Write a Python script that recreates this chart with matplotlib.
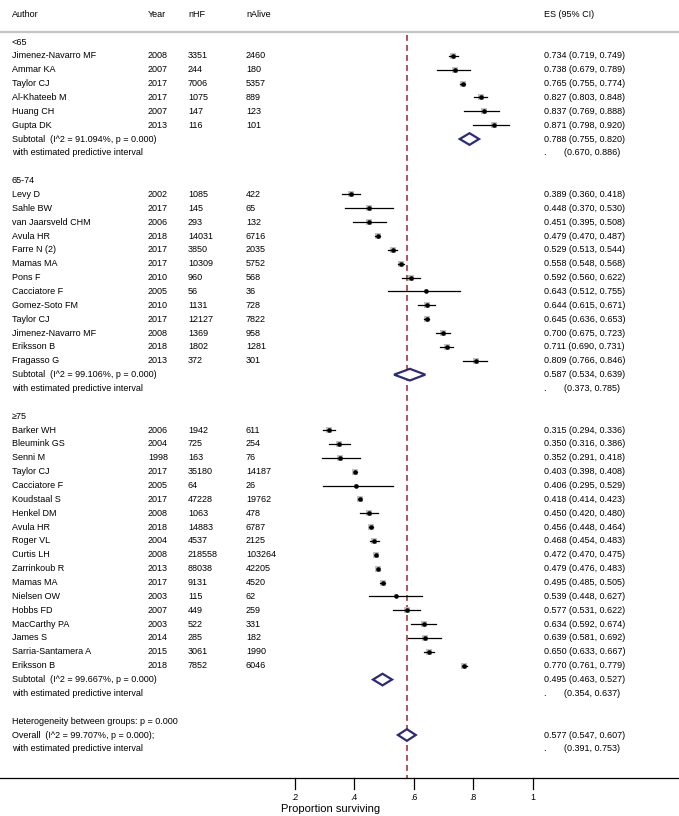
import numpy as np
import matplotlib
matplotlib.use("Agg")
import matplotlib.pyplot as plt
from matplotlib.patches import Polygon

plt.rcParams['font.family'] = ['Liberation Sans', 'DejaVu Sans']

# ---- data ----
group_names = ["<65", "65-74", "\u226575"]

authors_lt65 = ["Jimenez-Navarro MF", "Ammar KA", "Taylor CJ", "Al-Khateeb M", "Huang CH", "Gupta DK"]
years_lt65 = [2008, 2007, 2017, 2017, 2007, 2013]
nhf_lt65 = [3351, 244, 7006, 1075, 147, 116]
nalive_lt65 = [2460, 180, 5357, 889, 123, 101]
es_lt65 = [0.734, 0.738, 0.765, 0.827, 0.837, 0.871]
lo_lt65 = [0.719, 0.679, 0.755, 0.803, 0.769, 0.798]
hi_lt65 = [0.749, 0.789, 0.774, 0.848, 0.888, 0.920]

authors_6574 = ["Levy D", "Sahle BW", "van Jaarsveld CHM", "Avula HR", "Farre N (2)", "Mamas MA",
                "Pons F", "Cacciatore F", "Gomez-Soto FM", "Taylor CJ", "Jimenez-Navarro MF",
                "Eriksson B", "Fragasso G"]
years_6574 = [2002, 2017, 2006, 2018, 2017, 2017, 2010, 2005, 2010, 2017, 2008, 2018, 2013]
nhf_6574 = [1085, 145, 293, 14031, 3850, 10309, 960, 56, 1131, 12127, 1369, 1802, 372]
nalive_6574 = [422, 65, 132, 6716, 2035, 5752, 568, 36, 728, 7822, 958, 1281, 301]
es_6574 = [0.389, 0.448, 0.451, 0.479, 0.529, 0.558, 0.592, 0.643, 0.644, 0.645, 0.700, 0.711, 0.809]
lo_6574 = [0.360, 0.370, 0.395, 0.470, 0.513, 0.548, 0.560, 0.512, 0.615, 0.636, 0.675, 0.690, 0.766]
hi_6574 = [0.418, 0.530, 0.508, 0.487, 0.544, 0.568, 0.622, 0.755, 0.671, 0.653, 0.723, 0.731, 0.846]

authors_ge75 = ["Barker WH", "Bleumink GS", "Senni M", "Taylor CJ", "Cacciatore F", "Koudstaal S",
                "Henkel DM", "Avula HR", "Roger VL", "Curtis LH", "Zarrinkoub R", "Mamas MA",
                "Nielsen OW", "Hobbs FD", "MacCarthy PA", "James S", "Sarria-Santamera A", "Eriksson B"]
years_ge75 = [2006, 2004, 1998, 2017, 2005, 2017, 2008, 2018, 2004, 2008, 2013, 2017,
              2003, 2007, 2003, 2014, 2015, 2018]
nhf_ge75 = [1942, 725, 163, 35180, 64, 47228, 1063, 14883, 4537, 218558, 88038, 9131,
            115, 449, 522, 285, 3061, 7852]
nalive_ge75 = [611, 254, 76, 14187, 26, 19762, 478, 6787, 2125, 103264, 42205, 4520,
               62, 259, 331, 182, 1990, 6046]
es_ge75 = [0.315, 0.350, 0.352, 0.403, 0.406, 0.418, 0.450, 0.456, 0.468, 0.472, 0.479, 0.495,
           0.539, 0.577, 0.634, 0.639, 0.650, 0.770]
lo_ge75 = [0.294, 0.316, 0.291, 0.398, 0.295, 0.414, 0.420, 0.448, 0.454, 0.470, 0.476, 0.485,
           0.448, 0.531, 0.592, 0.581, 0.633, 0.761]
hi_ge75 = [0.336, 0.386, 0.418, 0.408, 0.529, 0.423, 0.480, 0.464, 0.483, 0.475, 0.483, 0.505,
           0.627, 0.622, 0.674, 0.692, 0.667, 0.779]

sub_i2 = [91.094, 99.106, 99.667]
sub_es = [0.788, 0.587, 0.495]
sub_lo = [0.755, 0.534, 0.463]
sub_hi = [0.820, 0.639, 0.527]
sub_pi_lo = [0.670, 0.373, 0.354]
sub_pi_hi = [0.886, 0.785, 0.637]

overall_i2 = 99.707
overall_es, overall_lo, overall_hi = 0.577, 0.547, 0.607
overall_pi_lo, overall_pi_hi = 0.391, 0.753
het_p = "0.000"

xticks = [0.2, 0.4, 0.6, 0.8, 1.0]
xtick_labels = [".2", ".4", ".6", ".8", "1"]

groups = [
    (authors_lt65, years_lt65, nhf_lt65, nalive_lt65, es_lt65, lo_lt65, hi_lt65),
    (authors_6574, years_6574, nhf_6574, nalive_6574, es_6574, lo_6574, hi_6574),
    (authors_ge75, years_ge75, nhf_ge75, nalive_ge75, es_ge75, lo_ge75, hi_ge75),
]

# ---- layout ----
W, H = 679, 816
fig = plt.figure(figsize=(W / 100, H / 100), dpi=100)
ax = fig.add_axes([0, 0, 1, 1])
ax.axis("off")

px0, px_per_unit = 235.5, 297.0      # pixel of x=0 and pixels per unit
row0_px, row_px = 42.0, 13.86        # pixel of row 1 and row height


def rowy(p):
    return (p - row0_px) / row_px + 1


ax.set_xlim(-px0 / px_per_unit, (W - px0) / px_per_unit)
ax.set_ylim(rowy(H), rowy(0))

def xu(p):
    return (p - px0) / px_per_unit

x_author, x_year, x_nhf, x_nalive = xu(12), xu(148), xu(188), xu(246)
x_es, x_pi = xu(543.5), xu(563.5)
fs = 6.5
navy = "#2b2b7a"

# header
yh = rowy(14)
for x, s in [(x_author, "Author"), (x_year, "Year"), (x_nhf, "nHF"),
             (x_nalive, "nAlive"), (x_es, "ES (95% CI)")]:
    ax.text(x, yh, s, fontsize=fs, va="center", ha="left")
ax.axhline(rowy(32), color="#c4c4c4", lw=1.6)

tau2 = 0.003


def diamond(y, es, lo, hi):
    h = 0.42
    ax.add_patch(Polygon([(lo, y), (es, y - h), (hi, y), (es, y + h)], closed=True,
                         facecolor="white", edgecolor=navy, lw=1.6, zorder=4))


r = 1
for g, (au, yr, nh, na, es, lo, hi) in enumerate(groups):
    ax.text(x_author, r, group_names[g], fontsize=fs, va="center")
    r += 1
    se = (np.array(hi) - np.array(lo)) / 3.92
    w = 1 / (se ** 2 + tau2)
    side = 4.6 * np.sqrt(w / (1 / tau2))
    for i in range(len(au)):
        ax.text(x_author, r, au[i], fontsize=fs, va="center")
        ax.text(x_year, r, str(yr[i]), fontsize=fs, va="center")
        ax.text(x_nhf, r, str(nh[i]), fontsize=fs, va="center")
        ax.text(x_nalive, r, str(na[i]), fontsize=fs, va="center")
        ax.text(x_es, r, f"{es[i]:.3f} ({lo[i]:.3f}, {hi[i]:.3f})", fontsize=fs, va="center")
        ax.plot(es[i], r, marker="s", ms=side[i], color="#c0c0c0", mew=0, zorder=2)
        ax.plot([lo[i], hi[i]], [r, r], color="black", lw=0.9, zorder=3)
        ax.plot(es[i], r, marker="o", ms=3.3, color="black", mew=0, zorder=3)
        r += 1
    ax.text(x_author, r, f"Subtotal  (I^2 = {sub_i2[g]:.3f}%, p = 0.000)", fontsize=fs, va="center")
    ax.text(x_es, r, f"{sub_es[g]:.3f} ({sub_lo[g]:.3f}, {sub_hi[g]:.3f})", fontsize=fs, va="center")
    diamond(r, sub_es[g], sub_lo[g], sub_hi[g])
    r += 1
    ax.text(x_author, r, "with estimated predictive interval", fontsize=fs, va="center")
    ax.text(x_es, r, ".", fontsize=fs, va="center")
    ax.text(x_pi, r, f"({sub_pi_lo[g]:.3f}, {sub_pi_hi[g]:.3f})", fontsize=fs, va="center")
    r += 2

ax.text(x_author, r, f"Heterogeneity between groups: p = {het_p}", fontsize=fs, va="center")
r += 1
ax.text(x_author, r, f"Overall  (I^2 = {overall_i2:.3f}%, p = 0.000);", fontsize=fs, va="center")
ax.text(x_es, r, f"{overall_es:.3f} ({overall_lo:.3f}, {overall_hi:.3f})", fontsize=fs, va="center")
diamond(r, overall_es, overall_lo, overall_hi)
r += 1
ax.text(x_author, r, "with estimated predictive interval", fontsize=fs, va="center")
ax.text(x_es, r, ".", fontsize=fs, va="center")
ax.text(x_pi, r, f"({overall_pi_lo:.3f}, {overall_pi_hi:.3f})", fontsize=fs, va="center")

# overall reference line
y_axis = rowy(778)
ax.plot([overall_es, overall_es], [rowy(35), y_axis], color="#a8323e", lw=1.2,
        ls=(0, (3.5, 2.5)), zorder=1)

# x axis
ax.axhline(y_axis, color="black", lw=0.9)
for t, lab in zip(xticks, xtick_labels):
    ax.plot([t, t], [y_axis, rowy(789)], color="black", lw=0.9)
    ax.text(t, rowy(797), lab, fontsize=6.3, ha="center", va="center")
ax.text(xu(331), rowy(809), "Proportion surviving", fontsize=8, ha="center", va="center")

fig.savefig("out.png", dpi=100)
